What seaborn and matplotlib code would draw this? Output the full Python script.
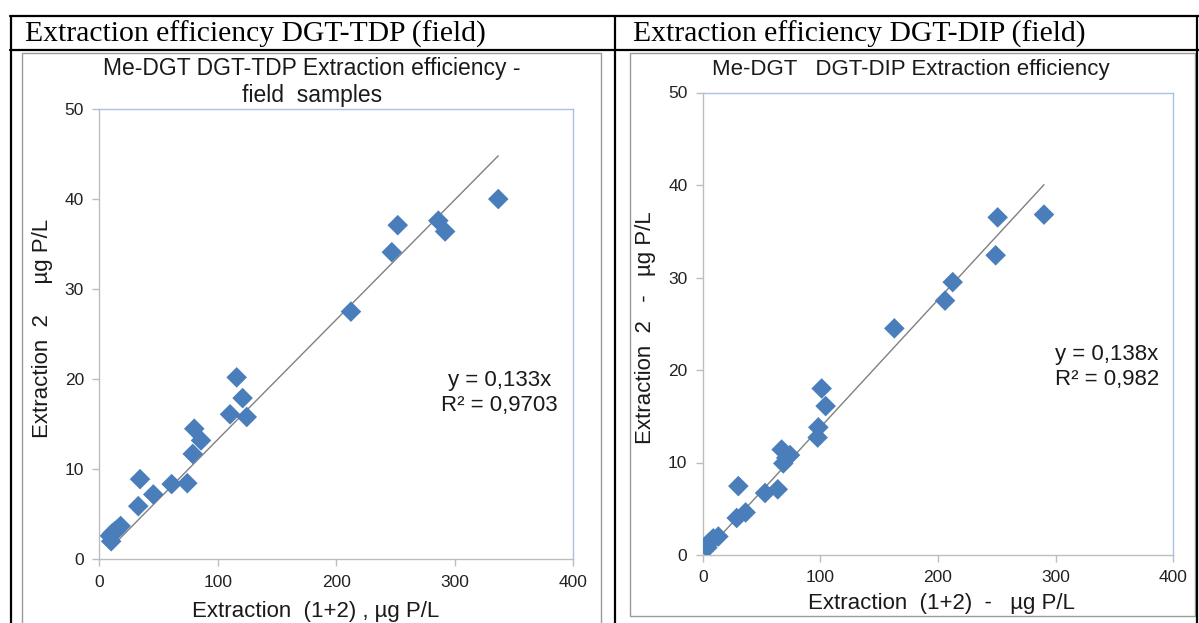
import matplotlib
matplotlib.use("Agg")
import matplotlib.pyplot as plt
from matplotlib.lines import Line2D
from matplotlib.patches import Rectangle
import seaborn as sns
import pandas as pd
import numpy as np

sns.set_theme(style="white")
plt.rcParams['font.family'] = ['Liberation Sans', 'DejaVu Sans']

# ---------------- data ----------------
tdp_x = [336.9, 252, 286.3, 292, 247, 212.5, 116, 121, 110.4, 124.5, 80.2, 85.9, 78.9,
         34.4, 61.1, 74.3, 45.6, 32.9, 18, 10, 9, 11, 13, 15]
tdp_y = [40.0, 37.1, 37.6, 36.4, 34.1, 27.5, 20.2, 17.9, 16.1, 15.8, 14.5, 13.2, 11.7,
         8.9, 8.35, 8.45, 7.2, 5.9, 3.7, 2.0, 2.6, 2.9, 3.1, 3.3]
dip_x = [290.1, 250.7, 249, 212.5, 206, 162.9, 101.1, 104.5, 98.3, 97.7, 67.1, 74.2, 68.5, 71,
         30.3, 53, 63.8, 36.5, 28.9, 13.3, 4, 5, 7, 9]
dip_y = [36.8, 36.5, 32.4, 29.5, 27.5, 24.5, 18.0, 16.1, 13.8, 12.7, 11.4, 10.8, 9.9, 10.5,
         7.45, 6.7, 7.1, 4.6, 4.0, 2.0, 0.8, 1.3, 1.5, 1.8]
slopes = [0.133, 0.138]
r2_labels = ["0,9703", "0,982"]
slope_labels = ["0,133", "0,138"]
headers = ["Extraction efficiency DGT-TDP (field)", "Extraction efficiency DGT-DIP (field)"]
titles = ["Me-DGT DGT-TDP Extraction efficiency -\nfield  samples", "Me-DGT   DGT-DIP Extraction efficiency"]
xlabels = ["Extraction  (1+2) , \u00b5g P/L", "Extraction  (1+2)  -   \u00b5g P/L"]
ylabels = ["Extraction  2     \u00b5g P/L", "Extraction  2   -   \u00b5g P/L"]
x_ticks = [0, 100, 200, 300, 400]
y_ticks = [0, 10, 20, 30, 40, 50]

W, H = 1199, 623
fig = plt.figure(figsize=(W / 100, H / 100), dpi=100)
fig.patch.set_facecolor("white")

def fx(px):
    return px / W

def fy(py):
    return 1 - py / H

# ---------------- table frame ----------------
for (x0, y0, x1, y1) in [(10, 16, W, 16), (10, 50, W, 50),
                         (11, 16, 11, H), (615, 16, 615, H), (1197, 16, 1197, H)]:
    fig.add_artist(Line2D([fx(x0), fx(x1)], [fy(y0), fy(y1)], color="black", lw=1.6))

# chart image borders
for (x0, y0, x1, y1) in [(22, 53, 601, 640), (630, 53, 1195, 616)]:
    fig.add_artist(Rectangle((fx(x0), fy(y1)), fx(x1) - fx(x0), fy(y0) - fy(y1),
                             fill=False, edgecolor="#9a9a9a", lw=1.0))

fig.text(fx(25), fy(34), headers[0], family="Liberation Serif", fontsize=21.3,
         ha="left", va="center", color="black")
fig.text(fx(633), fy(34), headers[1], family="Liberation Serif", fontsize=21.3,
         ha="left", va="center", color="black")

# ---------------- axes ----------------
axes_px = [(99.3, 109.0, 573.0, 559.3), (702.7, 92.5, 1173.3, 555.0)]
datasets = [(tdp_x, tdp_y), (dip_x, dip_y)]
title_pos = [(312, 82), (911, 69)]
title_sizes = [16.5, 16]
xlabel_pos = [(192, 612), (808, 603)]
ylabel_pos = [(43, 328), (645, 328)]
eq_pos = [(558, 393), (1159, 367)]

for i, ((l, t, r, b), (xs, ys)) in enumerate(zip(axes_px, datasets)):
    ax = fig.add_axes([fx(l), fy(b), fx(r) - fx(l), fy(t) - fy(b)])
    ax.set_facecolor("white")
    df = pd.DataFrame({"x": xs, "y": ys})
    sns.scatterplot(data=df, x="x", y="y", marker="D", s=110, color="#4A7EBB",
                    edgecolor="none", linewidth=0, ax=ax, zorder=3)
    xl = np.array([min(xs), max(xs)])
    line_df = pd.DataFrame({"x": xl, "y": slopes[i] * xl})
    sns.lineplot(data=line_df, x="x", y="y", color="#808080", lw=1.0, ax=ax, zorder=2)
    ax.set_xlim(0, 400)
    ax.set_ylim(0, 50)
    ax.set_xticks(x_ticks)
    ax.set_yticks(y_ticks)
    ax.set_xlabel("")
    ax.set_ylabel("")
    for s in ["left", "bottom"]:
        ax.spines[s].set_color("#bdbdbd")
        ax.spines[s].set_linewidth(1.0)
    for s in ["top", "right"]:
        ax.spines[s].set_color("#a9c2e2")
        ax.spines[s].set_linewidth(1.0)
    ax.tick_params(axis="both", direction="out", length=5, width=1, color="#bdbdbd",
                   labelsize=12.5, labelcolor="#222222", pad=6,
                   bottom=True, left=True, top=False, right=False)
    ax.grid(False)

    tx, ty = title_pos[i]
    fig.text(fx(tx), fy(ty), titles[i], fontsize=title_sizes[i], ha="center", va="center",
             color="#1a1a1a", linespacing=1.2)
    lx, ly = xlabel_pos[i]
    fig.text(fx(lx), fy(ly), xlabels[i], fontsize=16, ha="left", va="center", color="#1a1a1a")
    yx, yy = ylabel_pos[i]
    fig.text(fx(yx), fy(yy), ylabels[i], fontsize=16, ha="center", va="center",
             rotation=90, color="#1a1a1a")
    ex, ey = eq_pos[i]
    fig.text(fx(ex), fy(ey), "y = " + slope_labels[i] + "x\nR\u00b2 = " + r2_labels[i],
             fontsize=16, ha="right", va="center", multialignment="center",
             color="#1a1a1a", linespacing=1.2)

fig.savefig("out.png", dpi=100)
